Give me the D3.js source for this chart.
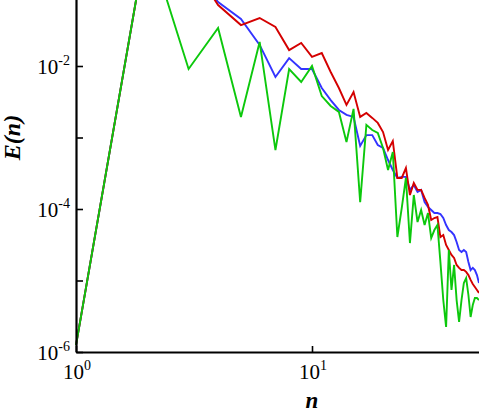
<!DOCTYPE html>
<html>
<head>
<meta charset="utf-8">
<script src="https://d3js.org/d3.v7.min.js"></script>
<style>
  body { margin: 0; background: #fff; }
  svg { display: block; }
  text { font-family: "Liberation Serif", "Times New Roman", serif; fill: #000; }
</style>
</head>
<body>
<script>
// wavenumber n = 1..51
var n = d3.range(1, 52);

var blue = [1.25e-6, 0.637, 0.259, 0.0785, 0.0454, 0.0197, 7.02e-3, 0.0129, 9.08e-3, 9.08e-3,
  4.92e-3, 3.34e-3, 2.43e-3, 2.07e-3, 1.94e-3, 7.60e-4, 1.08e-3, 1.08e-3, 7.85e-4, 7.13e-4,
  4.84e-4, 3.51e-4, 2.72e-4, 2.81e-4, 2.81e-4, 1.85e-4, 2.17e-4, 1.73e-4, 1.85e-4, 1.25e-4,
  1.07e-4, 9.68e-5, 8.79e-5, 8.79e-5, 8.51e-5, 7.48e-5, 5.97e-5, 5.08e-5, 4.76e-5, 4.32e-5,
  3.45e-5, 2.67e-5, 2.51e-5, 2.67e-5, 2.51e-5, 1.82e-5, 1.40e-5, 1.50e-5, 1.40e-5, 1.19e-5, 9.23e-6];

var red = [1.25e-6, 0.637, 0.304, 0.0713, 0.0374, 0.0469, 0.0351, 0.0167, 0.0210, 0.0134,
  0.0152, 8.24e-3, 4.92e-3, 2.85e-3, 4.33e-3, 1.94e-3, 2.20e-3, 1.88e-3, 1.60e-3, 1.19e-3,
  6.68e-4, 8.93e-4, 2.72e-4, 2.72e-4, 3.74e-4, 1.57e-4, 2.31e-4, 1.85e-4, 1.85e-4, 1.43e-4,
  1.14e-4, 7.02e-5, 7.48e-5, 7.73e-5, 4.05e-5, 4.32e-5, 3.14e-5, 2.67e-5, 2.28e-5, 2.07e-5,
  1.65e-5, 1.50e-5, 1.40e-5, 1.40e-5, 1.32e-5, 1.19e-5, 1.02e-5, 8.93e-6, 8.11e-6, 7.36e-6, 6.68e-6];

var green = [1.25e-6, 0.637, 9.08e-3, 0.0340, 1.94e-3, 0.0217, 6.68e-4, 9.08e-3, 5.97e-3, 0.0100,
  3.80e-3, 2.76e-3, 2.28e-3, 8.65e-4, 2.51e-3, 1.25e-4, 1.50e-3, 1.27e-3, 1.16e-3, 7.13e-4,
  3.51e-4, 6.26e-4, 4.05e-5, 1.03e-4, 2.72e-4, 3.34e-5, 1.57e-4, 6.58e-5, 9.68e-5, 5.97e-5,
  8.79e-5, 3.93e-5, 5.08e-5, 5.97e-5, 1.82e-5, 5.33e-6, 2.24e-6, 2.67e-5, 7.36e-6, 1.65e-5,
  5.33e-6, 2.63e-6, 5.33e-6, 9.23e-6, 1.08e-5, 6.27e-6, 3.09e-6, 4.54e-6, 5.69e-6, 5.69e-6, 5.33e-6];

var xTicks = [1, 10, 100];
var yTicks = [1e-6, 1e-5, 1e-4, 1e-3, 1e-2, 1e-1];
var yLabelExp = [-6, -4, -2];

var w = 479, h = 415;
var svg = d3.select("body").append("svg")
  .attr("width", w)
  .attr("height", h);

// one decade = 236px on x, 71.5px on y
var x = d3.scaleLog().domain([1, 100]).range([76, 548]);
var y = d3.scaleLog().domain([1e-6, 1e-1]).range([352, -5.5]);

var line = d3.line()
  .x(function(d, i){ return x(n[i]); })
  .y(function(d){ return y(d); });

var series = [
  {vals: blue, color: "#3333ff"},
  {vals: red, color: "#d40000"},
  {vals: green, color: "#0cc80c"}
];

svg.selectAll(".series")
  .data(series)
  .enter()
  .append("path")
  .attr("class", "series")
  .attr("d", function(s){ return line(s.vals); })
  .attr("fill", "none")
  .attr("stroke", function(s){ return s.color; })
  .attr("stroke-width", 1.9)
  .attr("stroke-linejoin", "miter");

// axes, ticks pointing inward
var yAxis = d3.axisLeft(y).tickValues(yTicks).tickSizeInner(-7).tickSizeOuter(0).tickFormat("");
var xAxis = d3.axisBottom(x).tickValues(xTicks).tickSizeInner(-6).tickSizeOuter(0).tickFormat("");

var gY = svg.append("g").attr("transform", "translate(" + x(1) + ",0)").call(yAxis);
var gX = svg.append("g").attr("transform", "translate(0," + y(1e-6) + ")").call(xAxis);
[gY, gX].forEach(function(g){
  g.select(".domain").attr("stroke", "#000").attr("stroke-width", 2.2);
  g.selectAll(".tick line").attr("stroke", "#000").attr("stroke-width", 1.6);
});

// tick labels with superscripts
function powLabel(g, e, anchor){
  var t = g.append("text").attr("text-anchor", anchor).style("font-size", "21px");
  t.append("tspan").text("10");
  t.append("tspan").attr("dy", -9).style("font-size", "14px").text(e);
  return t;
}

yLabelExp.forEach(function(e){
  powLabel(svg, e, "end").attr("x", x(1) - 6).attr("y", y(Math.pow(10, e)) + 8);
});
[0, 1].forEach(function(e){
  powLabel(svg, e, "middle").attr("x", x(Math.pow(10, e)) + 1).attr("y", y(1e-6) + 27);
});

// axis titles
svg.append("text")
  .attr("x", x(10))
  .attr("y", 408)
  .attr("text-anchor", "middle")
  .style("font-size", "23px")
  .style("font-weight", "bold")
  .style("font-style", "italic")
  .text("n");

svg.append("text")
  .attr("transform", "translate(20," + y(1e-3) + ") rotate(-90)")
  .attr("text-anchor", "middle")
  .style("font-size", "24px")
  .style("font-weight", "bold")
  .style("font-style", "italic")
  .text("E(n)");
</script>
</body>
</html>
